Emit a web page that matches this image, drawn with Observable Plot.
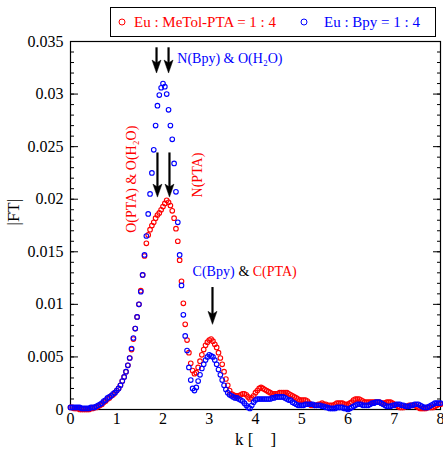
<!DOCTYPE html>
<html><head><meta charset="utf-8">
<script src="https://cdn.jsdelivr.net/npm/d3@7"></script>
<script src="https://cdn.jsdelivr.net/npm/@observablehq/plot@0.6"></script>
<style>
body{margin:0;background:#fff;}
#wrap{position:relative;width:443px;height:455px;font-family:"Liberation Serif","Times New Roman",serif;}
#wrap svg text{font-family:"Liberation Serif","Times New Roman",serif;}
#legend{position:absolute;left:110px;top:7px;width:324px;height:28px;border:1.5px solid #000;background:#fff;font-size:15px;}
.li{position:absolute;top:50%;transform:translateY(-50%);white-space:nowrap;line-height:1;}
.sym{position:absolute;top:50%;width:5px;height:5px;border:1.3px solid;border-radius:50%;transform:translate(-50%,-50%);}
</style></head>
<body><div id="wrap"></div>
<script>
// k grid step (1/Å units)
const kStep = 0.04;

// Eu : Bpy = 1 : 4 (blue), |FT| at k = 0, 0.04, ..., 8
const blueFT = [
0.0002,0.0002,0.0002,0.0002,0.0002,0.0002,0.0001,0.0001,0.0001,0.0001,
0.0001,0.0002,0.0002,0.0002,0.0003,0.0004,0.0005,0.0006,0.0008,0.0009,
0.0011,0.0012,0.0013,0.0015,0.0016,0.0018,0.0020,0.0023,0.0027,0.0031,
0.0036,0.0042,0.0049,0.0058,0.0068,0.0077,0.0088,0.0100,0.0112,0.0128,
0.0147,0.0165,0.0186,0.0205,0.0225,0.0247,0.0270,0.0289,0.0299,0.0306,
0.0310,0.0307,0.0300,0.0285,0.0270,0.0257,0.0234,0.0207,0.0178,0.0147,
0.0118,0.0090,0.0070,0.0056,0.0040,0.0028,0.0020,0.0018,0.0021,0.0027,
0.0033,0.0039,0.0043,0.0047,0.0050,0.0052,0.0051,0.0050,0.0047,0.0043,
0.0038,0.0033,0.0028,0.0023,0.0019,0.0016,0.0014,0.0013,0.0012,0.0011,
0.0011,0.0010,0.0009,0.0008,0.0006,0.0004,0.0002,0.0001,0.0004,0.0007,
0.0009,0.0010,0.0010,0.0010,0.0010,0.0010,0.0010,0.0010,0.0010,0.0011,
0.0011,0.0012,0.0012,0.0012,0.0012,0.0012,0.0011,0.0010,0.0009,0.0009,
0.0007,0.0006,0.0005,0.0004,0.0004,0.0004,0.0004,0.0005,0.0005,0.0005,
0.0005,0.0005,0.0004,0.0004,0.0004,0.0004,0.0003,0.0003,0.0002,0.0002,
0.0001,0.0001,0.0001,0.0001,0.0002,0.0002,0.0002,0.0002,0.0001,0.0001,
0.0000,0.0001,0.0002,0.0003,0.0004,0.0005,0.0005,0.0005,0.0004,0.0004,
0.0004,0.0004,0.0005,0.0006,0.0006,0.0007,0.0007,0.0007,0.0006,0.0005,
0.0004,0.0003,0.0003,0.0003,0.0004,0.0004,0.0005,0.0005,0.0005,0.0004,
0.0004,0.0003,0.0003,0.0003,0.0004,0.0004,0.0005,0.0005,0.0005,0.0004,
0.0003,0.0002,0.0002,0.0002,0.0003,0.0004,0.0005,0.0006,0.0006,0.0006,
0.0006];

// Eu : MeTol-PTA = 1 : 4 (red)
const redFT = [
0.0002,0.0002,0.0001,0.0001,0.0001,0.0000,0.0000,0.0000,0.0000,0.0000,
0.0000,0.0001,0.0001,0.0002,0.0002,0.0003,0.0004,0.0005,0.0007,0.0008,
0.0010,0.0011,0.0013,0.0014,0.0016,0.0018,0.0020,0.0023,0.0027,0.0031,
0.0036,0.0042,0.0049,0.0057,0.0067,0.0077,0.0088,0.0100,0.0113,0.0128,
0.0146,0.0158,0.0166,0.0171,0.0175,0.0178,0.0182,0.0185,0.0187,0.0190,
0.0193,0.0196,0.0199,0.0197,0.0194,0.0189,0.0182,0.0172,0.0160,0.0142,
0.0122,0.0101,0.0081,0.0066,0.0054,0.0044,0.0037,0.0034,0.0035,0.0040,
0.0046,0.0052,0.0057,0.0061,0.0064,0.0066,0.0067,0.0065,0.0062,0.0059,
0.0054,0.0049,0.0043,0.0036,0.0029,0.0023,0.0018,0.0015,0.0014,0.0013,
0.0013,0.0013,0.0014,0.0015,0.0015,0.0014,0.0012,0.0010,0.0011,0.0013,
0.0016,0.0018,0.0020,0.0021,0.0020,0.0019,0.0018,0.0017,0.0016,0.0015,
0.0015,0.0015,0.0015,0.0016,0.0016,0.0016,0.0016,0.0016,0.0015,0.0014,
0.0013,0.0012,0.0011,0.0010,0.0009,0.0009,0.0009,0.0009,0.0008,0.0006,
0.0004,0.0004,0.0004,0.0004,0.0005,0.0005,0.0006,0.0005,0.0005,0.0004,
0.0004,0.0004,0.0004,0.0005,0.0006,0.0006,0.0006,0.0006,0.0005,0.0005,
0.0005,0.0006,0.0007,0.0009,0.0010,0.0010,0.0010,0.0009,0.0008,0.0007,
0.0007,0.0007,0.0007,0.0007,0.0007,0.0007,0.0007,0.0007,0.0006,0.0006,
0.0006,0.0007,0.0007,0.0007,0.0006,0.0005,0.0004,0.0003,0.0002,0.0002,
0.0002,0.0003,0.0003,0.0004,0.0004,0.0004,0.0004,0.0003,0.0002,0.0001,
0.0001,0.0001,0.0001,0.0002,0.0002,0.0002,0.0002,0.0003,0.0004,0.0005,
0.0005];

const xTicks = [0,1,2,3,4,5,6,7,8];
const yTicks = [0,0.005,0.01,0.015,0.02,0.025,0.03,0.035];
const yTickLabels = ["0","0.005","0.01","0.015","0.02","0.025","0.03","0.035"];
const yMinorTicks = d3.range(36).map(i => i / 1000);

const seriesNames = ["Eu : MeTol-PTA = 1 : 4", "Eu : Bpy = 1 : 4"];
const seriesColors = ["#ff0000", "#0000ff"];

// annotation arrows (data coordinates)
const arrowK = [1.86, 2.12, 1.88, 2.14, 3.07];
const arrowFTstart = [0.0344, 0.0344, 0.0244, 0.0244, 0.0116];
const arrowFTend = [0.0320, 0.0320, 0.0202, 0.0202, 0.0081];

// annotation labels
const hNoteText = ["N(Bpy) & O(H\u2082O)", "C(Bpy)", "&", "C(PTA)"];
const hNoteK = [2.31, 2.64, 3.63, 3.94];
const hNoteFT = [0.0334, 0.01314, 0.01314, 0.01314];
const hNoteColor = ["#0000ff", "#0000ff", "#000000", "#ff0000"];
const vNoteText = ["O(PTA) & O(H\u2082O)", "N(PTA)"];
const vNoteK = [1.32, 2.75];
const vNoteFT = [0.0219, 0.0223];
const vNoteColor = ["#ff0000", "#ff0000"];

const k = d3.range(blueFT.length).map(i => +(i * kStep).toFixed(2));
const redData = k.map((kk, i) => ({k: kk, ft: redFT[i]}));
const blueData = k.map((kk, i) => ({k: kk, ft: blueFT[i]}));
const arrows = arrowK.map((kk, i) => ({k: kk, y1: arrowFTstart[i], y2: arrowFTend[i]}));
const hNotes = hNoteText.map((t, i) => ({t, k: hNoteK[i], ft: hNoteFT[i], c: hNoteColor[i]}));
const vNotes = vNoteText.map((t, i) => ({t, k: vNoteK[i], ft: vNoteFT[i], c: vNoteColor[i]}));

// filled arrowhead glyph with its tip at the anchor point, pointing down
const arrowHead = {
  draw(ctx) {
    ctx.moveTo(0, 0);
    ctx.lineTo(-4.5, -13);
    ctx.lineTo(0, -10);
    ctx.lineTo(4.5, -13);
    ctx.closePath();
  }
};

const font = '"Liberation Serif","Times New Roman",serif';
const blank = () => "";

const chart = Plot.plot({
  width: 443, height: 455,
  marginLeft: 70, marginRight: 3, marginTop: 41, marginBottom: 46,
  x: {domain: [0, 8]},
  y: {domain: [0, 0.035]},
  color: {type: "identity"},
  style: {fontFamily: font, fontSize: "16px", color: "#000", background: "#fff"},
  marks: [
    Plot.axisY({anchor: "left", ticks: yMinorTicks, tickSize: -4, tickFormat: blank, label: null}),
    Plot.axisY({anchor: "left", ticks: yTicks, tickSize: -8, tickFormat: blank, label: null}),
    Plot.axisY({anchor: "right", ticks: yMinorTicks, tickSize: -4, tickFormat: blank, label: null}),
    Plot.axisY({anchor: "right", ticks: yTicks, tickSize: -8, tickFormat: blank, label: null}),
    Plot.axisY({anchor: "left", ticks: yTicks, tickSize: 0, tickPadding: 7, fontSize: 16,
      tickFormat: d => yTickLabels[yTicks.indexOf(d)], label: null}),
    Plot.axisX({ticks: xTicks, tickSize: 0, tickPadding: 3, fontSize: 16, label: null}),
    Plot.frame({stroke: "#000", strokeWidth: 1.2}),
    Plot.dot(redData, {x: "k", y: "ft", r: 2.3, stroke: seriesColors[0], strokeWidth: 1.1, fill: "none"}),
    Plot.dot(blueData, {x: "k", y: "ft", r: 2.3, stroke: seriesColors[1], strokeWidth: 1.1, fill: "none"}),
    Plot.ruleX(arrows, {x: "k", y1: "y1", y2: "y2", stroke: "#000", strokeWidth: 2.2, insetBottom: 7}),
    Plot.dot(arrows, {x: "k", y: "y2", symbol: arrowHead, fill: "#000", stroke: "#000", strokeWidth: 0.5, r: 5}),
    Plot.text(hNotes, {x: "k", y: "ft", text: "t", fill: "c", textAnchor: "start", fontSize: 14}),
    Plot.text(vNotes, {x: "k", y: "ft", text: "t", fill: "c", textAnchor: "middle", rotate: -90, fontSize: 14}),
    Plot.text(["k [\u00a0\u00a0\u00a0\u00a0]"], {text: d => d, frameAnchor: "bottom", dy: 35, fontSize: 17}),
    Plot.text(["|FT|"], {text: d => d, frameAnchor: "left", dx: -57, rotate: -90, fontSize: 17})
  ]
});

const wrap = document.getElementById("wrap");
wrap.appendChild(chart);
const legend = document.createElement("div");
legend.id = "legend";
legend.innerHTML =
  `<span class="sym" style="left:11px;border-color:${seriesColors[0]}"></span>` +
  `<span class="li" style="left:23px;color:${seriesColors[0]}">${seriesNames[0]}</span>` +
  `<span class="sym" style="left:193px;border-color:${seriesColors[1]}"></span>` +
  `<span class="li" style="left:213px;color:${seriesColors[1]}">${seriesNames[1]}</span>`;
wrap.appendChild(legend);
</script>
</body></html>
